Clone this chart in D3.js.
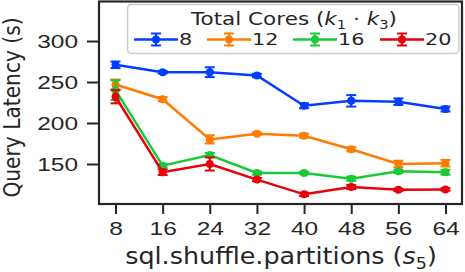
<!DOCTYPE html>
<html>
<head>
<meta charset="utf-8">
<script src="https://cdn.jsdelivr.net/npm/d3@7"></script>
<style>
  body { margin: 0; background: #fff; }
  svg { display: block; font-family: "DejaVu Sans", sans-serif; }
</style>
</head>
<body>
<div id="chart-area"></div>
<script>
// data
let partitions = [8, 16, 24, 32, 40, 48, 56, 64];
let coreLabels = ["8", "12", "16", "20"];
let lat8  = [271, 262, 262, 258, 221, 227, 226, 217];
let err8  = [4, 1.5, 6, 2, 3, 7, 4, 3];
let lat12 = [247, 229, 180, 187, 184.5, 168, 150, 151];
let err12 = [6, 2.5, 5, 1.5, 2.5, 2.5, 4, 4];
let lat16 = [240, 148, 161, 139, 139, 132, 141, 140];
let err16 = [12, 2, 2.5, 2, 1.5, 2.5, 2, 3];
let lat20 = [232, 140, 150, 131, 113, 122, 118.5, 119];
let err20 = [8, 3.5, 8, 2, 2, 2.5, 1.5, 1.5];
let yTicks = [150, 200, 250, 300];

let colors = ["#023eff", "#ff7c00", "#1ac938", "#e8000b"];
let ink = "#262626";

let series = [lat8, lat12, lat16, lat20].map((v, i) => ({
	name: coreLabels[i],
	color: colors[i],
	values: v.map((d, j) => ({x: partitions[j], y: d, e: [err8, err12, err16, err20][i][j]}))
}));

let W = 465, H = 272;
let margin = {top: 1.5, right: 3, bottom: 68, left: 99};
let width = W - margin.left - margin.right;
let height = H - margin.top - margin.bottom;

let root = d3.select("#chart-area").append("svg")
	.attr("width", W)
	.attr("height", H);

let svg = root.append("g")
	.attr("transform", "translate(" + margin.left + "," + margin.top + ")");

let x = d3.scaleLinear().domain([5.2, 66.8]).range([0, width]);
let y = d3.scaleLinear().domain([101.2, 348.2]).range([height, 0]);

// the picture is stretched sideways, so widen text around its anchor
function stretch(sel, k) {
	sel.each(function() {
		let ax = +(this.getAttribute("x") || 0);
		d3.select(this).attr("transform",
			"translate(" + ax + ",0) scale(" + k + ",1) translate(" + (-ax) + ",0)");
	});
}

// axes
let xAxis = d3.axisBottom(x).tickValues(partitions).tickSize(10).tickPadding(9);
let yAxis = d3.axisLeft(y).tickValues(yTicks).tickSize(12).tickPadding(9);

let gx = svg.append("g").attr("transform", "translate(0," + height + ")").call(xAxis);
let gy = svg.append("g").call(yAxis);
[gx, gy].forEach(g => {
	g.select(".domain").remove();
	g.selectAll(".tick line").attr("stroke", ink).attr("stroke-width", 2);
	g.selectAll(".tick text").attr("fill", ink).style("font-size", "17.5px");
});
gy.selectAll(".tick text").attr("dy", "0.36em");
gx.selectAll(".tick text").attr("dy", "0.71em");
stretch(gx.selectAll(".tick text"), 1.4);
stretch(gy.selectAll(".tick text"), 1.4);

// lines, error bars, markers
let line = d3.line().x(d => x(d.x)).y(d => y(d.y));
let cap = 5;

series.forEach(s => {
	let g = svg.append("g");
	g.append("path")
		.datum(s.values)
		.attr("fill", "none")
		.attr("stroke", s.color)
		.attr("stroke-width", 2.5)
		.attr("d", line);
	let eb = g.selectAll(".eb").data(s.values).enter().append("g")
		.attr("stroke", s.color)
		.attr("stroke-width", 2);
	eb.append("line")
		.attr("x1", d => x(d.x)).attr("x2", d => x(d.x))
		.attr("y1", d => y(d.y - d.e)).attr("y2", d => y(d.y + d.e));
	eb.append("line")
		.attr("x1", d => x(d.x) - cap).attr("x2", d => x(d.x) + cap)
		.attr("y1", d => y(d.y - d.e)).attr("y2", d => y(d.y - d.e));
	eb.append("line")
		.attr("x1", d => x(d.x) - cap).attr("x2", d => x(d.x) + cap)
		.attr("y1", d => y(d.y + d.e)).attr("y2", d => y(d.y + d.e));
	g.selectAll("circle").data(s.values).enter().append("circle")
		.attr("cx", d => x(d.x))
		.attr("cy", d => y(d.y))
		.attr("r", 4)
		.attr("fill", s.color);
});

// frame
svg.append("rect")
	.attr("width", width).attr("height", height)
	.attr("fill", "none")
	.attr("stroke", ink)
	.attr("stroke-width", 2.2);

// axis labels
let yl = root.append("g")
	.attr("transform", "translate(20,107.5) scale(1.15,1) rotate(-90)");
yl.append("text")
	.attr("text-anchor", "middle")
	.attr("fill", ink)
	.style("font-size", "20.2px")
	.text("Query Latency (s)");

let xl = root.append("g")
	.attr("transform", "translate(281,264) scale(1.13,1)");
let xt = xl.append("text")
	.attr("text-anchor", "middle")
	.attr("fill", ink)
	.style("font-size", "22.5px");
xt.append("tspan").text("sql.shuffle.partitions (");
xt.append("tspan").style("font-style", "italic").text("s");
xt.append("tspan").attr("dy", 5).style("font-size", "15.5px").text("5");
xt.append("tspan").attr("dy", -5).text(")");

// legend
let lg = root.append("g");
lg.append("rect")
	.attr("x", 127.5).attr("y", 4.5)
	.attr("width", 331.5).attr("height", 49)
	.attr("rx", 4)
	.attr("fill", "#fff").attr("fill-opacity", 0.8)
	.attr("stroke", "#cccccc").attr("stroke-width", 1.5);

let tg = lg.append("g").attr("transform", "translate(294,25) scale(1.23,1)");
let tt = tg.append("text")
	.attr("text-anchor", "middle")
	.attr("fill", ink)
	.style("font-size", "17.5px");
tt.append("tspan").text("Total Cores (");
tt.append("tspan").style("font-style", "italic").text("k");
tt.append("tspan").attr("dy", 3.5).style("font-size", "12px").text("1");
tt.append("tspan").attr("dy", -3.5).text(" \u00b7 ");
tt.append("tspan").style("font-style", "italic").text("k");
tt.append("tspan").attr("dy", 3.5).style("font-size", "12px").text("3");
tt.append("tspan").attr("dy", -3.5).text(")");

let entryX = [134, 207, 293, 380];
let ly = 39.5;
series.forEach((s, i) => {
	let e = lg.append("g").attr("transform", "translate(" + entryX[i] + "," + ly + ")");
	e.append("line").attr("x1", 0).attr("x2", 44).attr("stroke", s.color).attr("stroke-width", 2.5);
	e.append("line").attr("x1", 22).attr("x2", 22).attr("y1", -6).attr("y2", 6).attr("stroke", s.color).attr("stroke-width", 2);
	e.append("line").attr("x1", 17).attr("x2", 27).attr("y1", -6).attr("y2", -6).attr("stroke", s.color).attr("stroke-width", 2);
	e.append("line").attr("x1", 17).attr("x2", 27).attr("y1", 6).attr("y2", 6).attr("stroke", s.color).attr("stroke-width", 2);
	e.append("circle").attr("cx", 22).attr("r", 4).attr("fill", s.color);
	e.append("text")
		.attr("x", 45).attr("dy", "0.36em")
		.attr("fill", ink)
		.style("font-size", "16.5px")
		.text(s.name)
		.call(stretch, 1.26);
});
</script>
</body>
</html>
